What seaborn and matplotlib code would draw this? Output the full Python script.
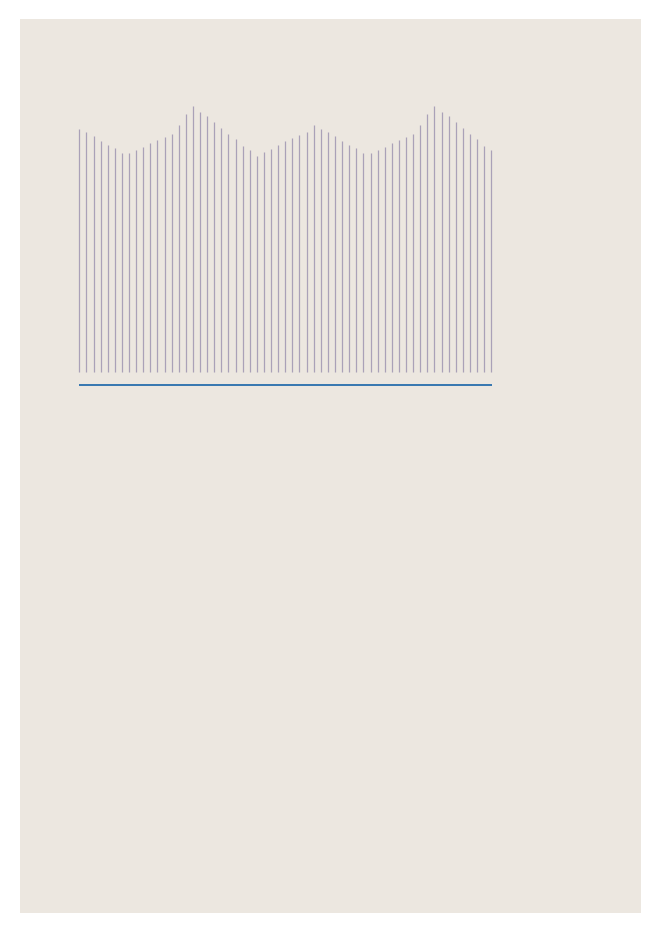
import numpy as np
import pandas as pd
import seaborn as sns
import matplotlib
matplotlib.use("Agg")
import matplotlib.pyplot as plt

#########################
# Data
#########################

# height of each vertical stroke
heights = [243.3, 240.0, 236.0, 231.3, 227.0, 224.0, 219.0, 219.0, 222.0, 225.3,
           229.0, 232.3, 235.0, 238.0, 247.0, 258.0, 266.0, 260.3, 256.0, 250.0,
           244.3, 238.0, 233.3, 226.3, 221.7, 215.7, 220.3, 223.3, 227.0, 230.7,
           234.3, 237.0, 240.3, 247.0, 243.3, 240.3, 236.0, 231.3, 227.0, 224.0,
           219.0, 219.0, 222.0, 225.3, 229.0, 232.3, 235.0, 238.0, 247.0, 258.0,
           266.0, 260.3, 256.0, 250.0, 244.3, 238.0, 233.3, 226.3, 221.7]
positions = list(range(len(heights)))
baseline = -12.7

df = pd.DataFrame({'pos': positions, 'height': heights})

#########################
# Plot
#########################

sns.set_theme(style="white")
bg = "#ece7e0"
line_col = "#aaa1b8"
blue = "#1763a8"

fig = plt.figure(figsize=(6.61, 9.33), dpi=100)
fig.patch.set_facecolor("white")
ax = fig.add_axes([20 / 661, 20 / 933, 621 / 661, 893.5 / 933])
ax.set_facecolor(bg)

ax.vlines(df['pos'], 0, df['height'], color=line_col, linewidth=0.9)
ax.hlines(baseline, df['pos'].min() - 0.1, df['pos'].max() + 0.1,
          color=blue, linewidth=1.2)

ax.set_xlim(-8.35, 79.08)
ax.set_ylim(-541, 352.5)
ax.set_xticks([])
ax.set_yticks([])
sns.despine(ax=ax, left=True, bottom=True)

plt.savefig("out.png", dpi=100, facecolor="white")
